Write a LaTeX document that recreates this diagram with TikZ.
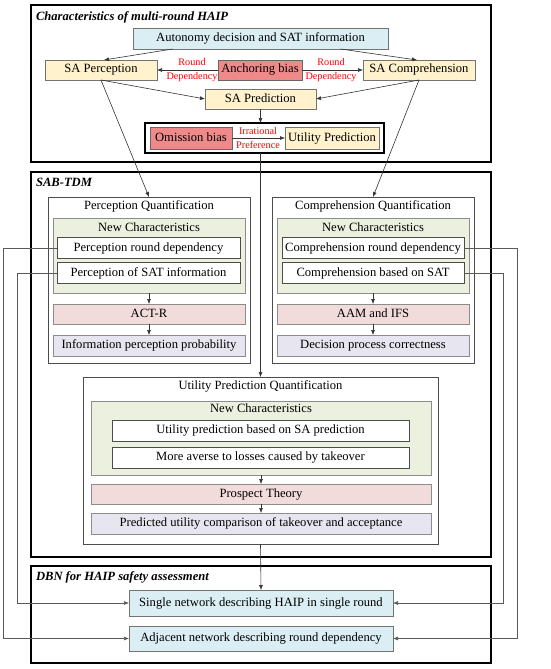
\documentclass[tikz,border=0pt]{standalone}
\usepackage{fontspec}
\setmainfont{Liberation Serif}
\usetikzlibrary{positioning,calc,fit
  ,arrows.meta}
\definecolor{haipblue}{RGB}{218,238,243}
\definecolor{haipyellow}{RGB}{255,242,204}
\definecolor{haipsalmon}{RGB}{238,138,138}
\definecolor{haipgreen}{RGB}{235,241,222}
\definecolor{haippink}{RGB}{242,220,219}
\definecolor{haiplilac}{RGB}{231,230,240}
\definecolor{haipred}{RGB}{255,0,0}
\tikzset{
haipfig/.style={
  x=1pt,y=-1pt
    ,inner sep=0pt
    ,outer sep=0pt
    ,font=\fontsize{12.6}{14}\selectfont
}
,stage/.style={draw=black,line width=2.6pt,minimum width=460}
,stagename/.style={anchor=base west,font=\fontsize{12.6}{14}\selectfont\bfseries\itshape}
,cell/.style={
  draw=black!55, line width=.6pt,
  minimum height=20,
  align=center,
  text height=9pt,
  text depth=3pt
}
,sablue/.style={cell,fill=haipblue}
,sayellow/.style={cell,fill=haipyellow}
,biasred/.style={cell,fill=haipsalmon,draw=black!60}
,newchar/.style={cell,fill=haipgreen,draw=black!45}
,feature/.style={cell,fill=white,draw=black!70,minimum height=21}
,method/.style={cell,fill=haippink,draw=black!45}
,result/.style={cell,fill=haiplilac,draw=black!45,minimum height=21}
,quant/.style={draw=black!70,line width=.7pt}
,heading/.style={text height=9pt,text depth=3pt}
,redtag/.style={align=center,text=haipred,font=\fontsize{10.2}{14}\selectfont}
,link/.style={draw=black!80,line width=.6pt,-{Latex[length=5pt,width=4pt]}}
}

\begin{document}
\begin{tikzpicture}[haipfig]
  \useasboundingbox (0,0) rectangle (550,669);
  % stages
  \node[stage,minimum height=157] (charbox) at (261,83.5) {};
  \node[stage,minimum height=385] (tdmbox) at (261,364.5) {};
  \node[stage,minimum height=97] (dbnbox) at (261,614.5) {};
  \node[stagename] (charnm) at (36,20.5) {Characteristics of multi-round HAIP};
  \node[stagename] (tdmnm) at (36,186.5) {SAB-TDM};
  \node[stagename] (dbnnm) at (36,580) {DBN for HAIP safety assessment};
  % characteristics of multi-round HAIP
  \node[sablue,minimum width=255,minimum height=21] (auto) at (260.5,38.5) {Autonomy decision and SAT information};
  \node[sayellow,minimum width=112] (saperc) at (101,70) {SA Perception};
  \node[biasred,minimum width=84] (anchbias) at (260,70) {Anchoring bias};
  \node[sayellow,minimum width=112] (sacomp) at (419,70) {SA Comprehension};
  \node[sayellow,minimum width=111] (sapred) at (260.5,99) {SA Prediction};
  \node[biasred,minimum width=82,minimum height=22] (omisbias) at (191,138) {Omission bias};
  \node[sayellow,minimum width=94,minimum height=22] (utilpred) at (332,138) {Utility Prediction};
  \node[draw=black,line width=1.8pt,inner xsep=5pt,inner ysep=4pt
    ,fit=(omisbias) (utilpred)] (omisbox) {};
  \node[redtag] (lround) at (192,70) {Round\\Dependency};
  \node[redtag] (rround) at (331,70) {Round\\Dependency};
  \node[redtag] (irrpref) at (258,138.5) {Irrational\\Preference};
  % perception quantification
  \node[quant,minimum width=202,minimum height=166] (pqbox) at (149,280) {};
  \node[heading] (pqhead) at (149,206) {Perception Quantification};
  \node[newchar,minimum width=192,minimum height=75] (pqnew) at (149,255.5) {};
  \node[heading] (pqnewnm) at (149,228) {New Characteristics};
  \node[feature,minimum width=183] (pqround) at (148.5,248) {Perception round dependency};
  \node[feature,below=4pt of pqround,minimum width=183] (pqsat) {Perception of SAT information};
  \node[method,minimum width=192] (actr) at (149,314) {ACT-R};
  \node[result,below=11pt of actr,minimum width=192] (pqout) {Information perception probability};
  % comprehension quantification
  \node[quant,minimum width=202,minimum height=166] (cqbox) at (373,280) {};
  \node[heading] (cqhead) at (373,206) {Comprehension Quantification};
  \node[newchar,minimum width=192,minimum height=75] (cqnew) at (373,255.5) {};
  \node[heading] (cqnewnm) at (373,228) {New Characteristics};
  \node[feature,minimum width=182] (cqround) at (373,248) {Comprehension round dependency};
  \node[feature,below=4pt of cqround,minimum width=182] (cqsat) {Comprehension based on SAT};
  \node[method,minimum width=192] (aamifs) at (373,314) {AAM and IFS};
  \node[result,below=11pt of aamifs,minimum width=192] (cqout) {Decision process correctness};
  % utility prediction quantification
  \node[quant,minimum width=355,minimum height=167] (upqbox) at (260.5,460.5) {};
  \node[heading] (upqhead) at (260.5,386) {Utility Prediction Quantification};
  \node[newchar,minimum width=340,minimum height=74] (upqnew) at (261,438) {};
  \node[heading] (upqnewnm) at (261,409) {New Characteristics};
  \node[feature,minimum width=297] (upqsa) at (260.5,430.5) {Utility prediction based on SA prediction};
  \node[feature,below=6pt of upqsa,minimum width=297] (upqloss) {More averse to losses caused by takeover};
  \node[method,minimum width=340] (prospect) at (261,494) {Prospect Theory};
  \node[result,below=9pt of prospect,minimum width=340] (upqout) {Predicted utility comparison of takeover and acceptance};
  % DBN for HAIP safety assessment
  \node[sablue,minimum width=264,minimum height=26] (single) at (261,603) {Single network describing HAIP in single round};
  \node[sablue,minimum width=264,minimum height=25] (adjacent) at (261,638.5) {Adjacent network describing round dependency};
  % links
  \draw[link] ($(auto.south)+(-88,0)$) -- ($(saperc.north)+(3,0)$);
  \draw[link] ($(auto.south)+(80,0)$) -- ($(sacomp.north)+(-2,0)$);
  \draw[link] (anchbias.west) -- (saperc.east);
  \draw[link] (anchbias.east) -- (sacomp.west);
  \draw[link] (saperc.south) -- (sapred.west);
  \draw[link] (sacomp.south) -- (sapred.east);
  \draw[link] (sapred.south) -- (sapred.south |- omisbox.north);
  \draw[link] (omisbias.east) -- (utilpred.west);
  \draw[link] (saperc.south) -- (pqbox.north);
  \draw[link] (sacomp.south) -- (cqbox.north);
  \draw[link] (omisbox.south -| sapred.south) -- (upqbox.north);
  \draw[link] (pqnew.south) -- (actr.north);
  \draw[link] (actr.south) -- (pqout.north);
  \draw[link] (cqnew.south) -- (aamifs.north);
  \draw[link] (aamifs.south) -- (cqout.north);
  \draw[link] (upqnew.south) -- (prospect.north);
  \draw[link] (prospect.south) -- (upqout.north);
  \draw[link] (upqbox.south) -- (single.north);
  % side wires
  \coordinate (wirea) at (3,0);
  \coordinate (wireb) at (17,0);
  \coordinate (wirec) at (503,0);
  \coordinate (wired) at (517,0);
  \draw[link,draw=black!65] (pqround.west) -- (pqround.west -| wirea) |- (adjacent.west);
  \draw[link,draw=black!65] (pqsat.west) -- (pqsat.west -| wireb) |- (single.west);
  \draw[link,draw=black!65] (cqround.east) -- (cqround.east -| wired) |- (adjacent.east);
  \draw[link,draw=black!65] (cqsat.east) -- (cqsat.east -| wirec) |- (single.east);
\end{tikzpicture}
\end{document}
